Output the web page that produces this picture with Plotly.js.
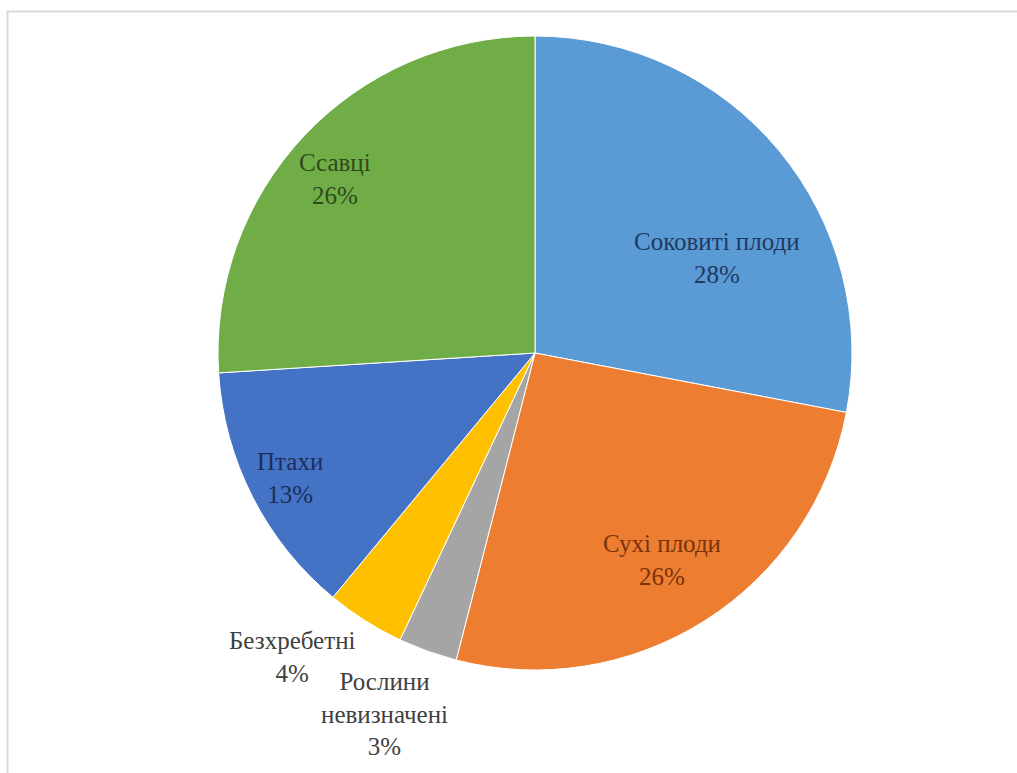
<!DOCTYPE html>
<html>
<head>
<meta charset="utf-8">
<script src="https://cdn.plot.ly/plotly-3.0.1.min.js"></script>
<style>
html,body{margin:0;padding:0;background:#fff;}
#chart{width:1017px;height:773px;}
</style>
</head>
<body>
<div id="chart"></div>
<script>
// ---- data ----
const categories = ['Соковиті плоди', 'Сухі плоди', 'Рослини невизначені', 'Безхребетні', 'Птахи', 'Ссавці'];
const labelLines = [['Соковиті плоди'], ['Сухі плоди'], ['Рослини', 'невизначені'], ['Безхребетні'], ['Птахи'], ['Ссавці']];
const values = [28, 26, 3, 4, 13, 26];

// ---- styles / label layout ----
const sliceColors = ['#5B9BD5', '#ED7D31', '#A5A5A5', '#FFC000', '#4472C4', '#70AD47'];
const labelColors = ['#1F3A5F', '#7A330B', '#404040', '#404040', '#1C2F5A', '#2E4A1C'];
const labelRadius = [0.647, 0.766, 1.233, 1.227, 0.866, 0.836];   // fraction of pie radius
const labelAngleShift = [12, 1, 2.8, 6.2, 0, -2.2];               // degrees from slice middle

const W = 1017, H = 773;
const cx = 535, cy = 353, R = 317;
const FONT = 'Liberation Serif, Times New Roman, serif';
const FS = 25;

const total = values.reduce((a, b) => a + b, 0);
const annotations = [];
let cum = 0;
values.forEach((v, i) => {
  const mid = (cum + v / 2) / total * 360 + labelAngleShift[i];
  cum += v;
  const a = mid * Math.PI / 180;
  const px = cx + labelRadius[i] * R * Math.sin(a);
  const py = cy - labelRadius[i] * R * Math.cos(a);
  const lines = labelLines[i].concat([Math.round(v / total * 100) + '%']);
  annotations.push({
    xref: 'paper', yref: 'paper',
    x: px / W, y: 1 - py / H,
    xanchor: 'center', yanchor: 'middle', align: 'center',
    text: lines.join('<br>'), showarrow: false, borderpad: 0,
    font: { family: FONT, size: FS, color: labelColors[i] }
  });
});

const trace = {
  type: 'pie',
  labels: categories,
  values: values,
  sort: false,
  direction: 'clockwise',
  rotation: 0,
  marker: { colors: sliceColors, line: { color: '#ffffff', width: 1 } },
  textinfo: 'none',
  hoverinfo: 'label+percent',
  domain: { x: [(cx - R) / W, (cx + R) / W], y: [(H - cy - R) / H, (H - cy + R) / H] }
};

const layout = {
  width: W, height: H,
  margin: { l: 0, r: 0, t: 0, b: 0 },
  paper_bgcolor: '#ffffff',
  font: { family: FONT },
  showlegend: false,
  annotations: annotations,
  shapes: [{
    type: 'rect', xref: 'paper', yref: 'paper',
    x0: 7.5 / W, x1: 1.02, y0: -0.02, y1: 1 - 11.5 / H,
    line: { color: '#d9d9d9', width: 2 }, fillcolor: 'rgba(0,0,0,0)', layer: 'below'
  }]
};

Plotly.newPlot('chart', [trace], layout, { displayModeBar: false, staticPlot: true });
</script>
</body>
</html>
